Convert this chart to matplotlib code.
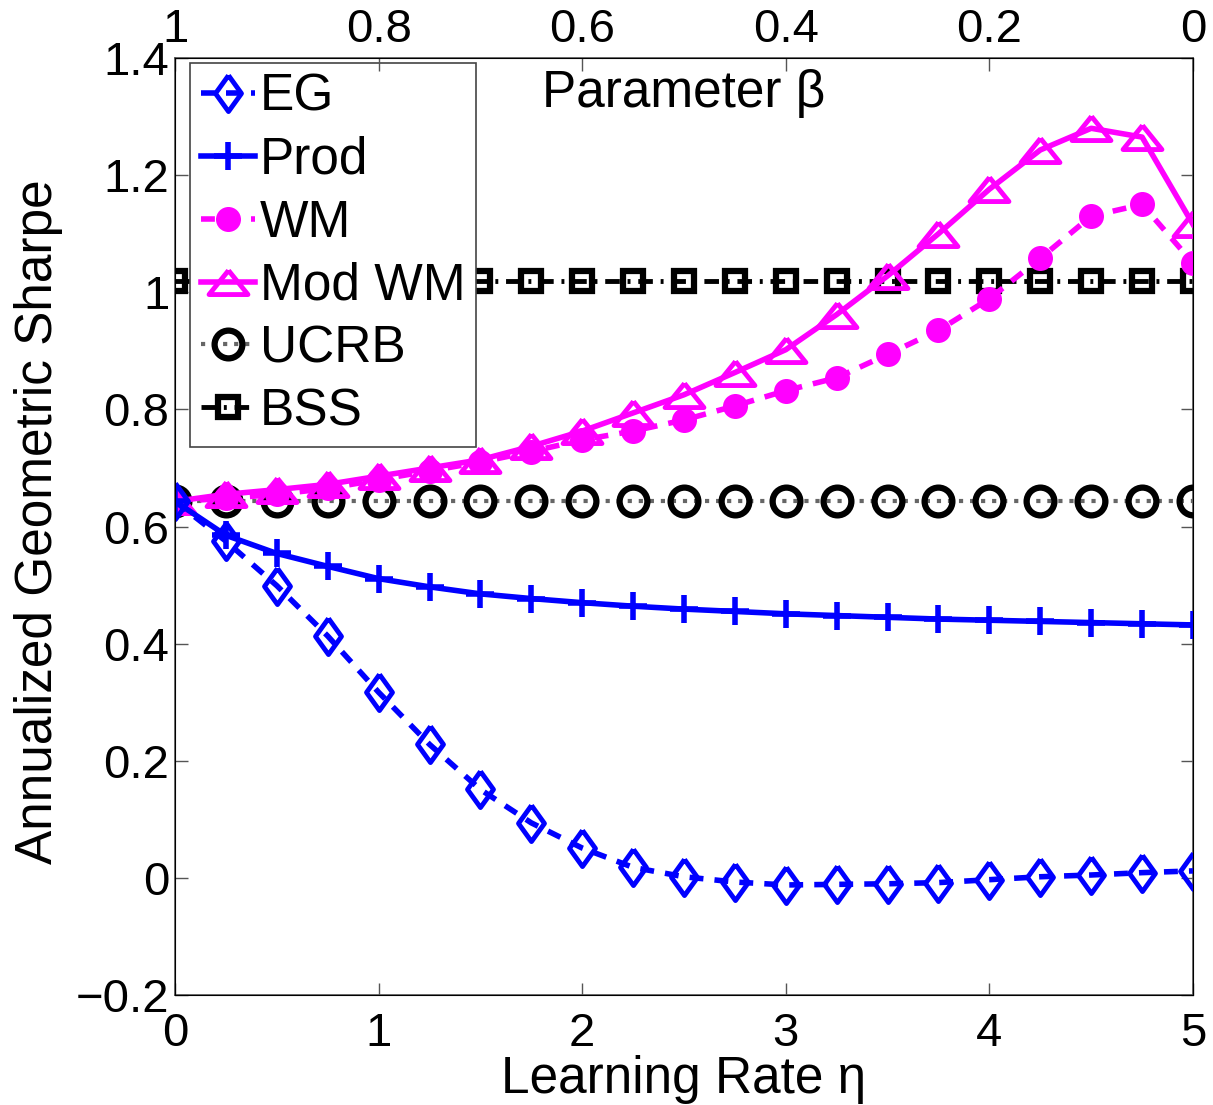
import matplotlib.pyplot as plt
import numpy as np

plt.rcParams['font.family'] = ['Liberation Sans', 'DejaVu Sans']

# learning rate eta (bottom axis), parameter beta (top axis)
eta = [0, 0.25, 0.5, 0.75, 1.0, 1.25, 1.5, 1.75, 2.0, 2.25, 2.5,
       2.75, 3.0, 3.25, 3.5, 3.75, 4.0, 4.25, 4.5, 4.75, 5.0]

eg = [0.643, 0.575, 0.499, 0.413, 0.317, 0.228, 0.151, 0.094, 0.051, 0.018, 0.002,
      -0.007, -0.012, -0.011, -0.010, -0.008, -0.003, 0.002, 0.005, 0.009, 0.012]
prod = [0.643, 0.585, 0.554, 0.532, 0.511, 0.497, 0.485, 0.477, 0.470, 0.464, 0.459,
        0.455, 0.451, 0.448, 0.445, 0.442, 0.440, 0.438, 0.436, 0.434, 0.432]
wm = [0.643, 0.648, 0.655, 0.665, 0.680, 0.695, 0.710, 0.728, 0.748, 0.763, 0.782,
      0.806, 0.832, 0.854, 0.894, 0.935, 0.989, 1.058, 1.130, 1.150, 1.050]
mod_wm = [0.643, 0.655, 0.663, 0.672, 0.686, 0.700, 0.714, 0.737, 0.763, 0.794, 0.825,
          0.863, 0.902, 0.962, 1.028, 1.100, 1.176, 1.243, 1.280, 1.265, 1.116]
ucrb = [0.643] * 21
bss = [1.019] * 21

beta_ticks = [1, 0.8, 0.6, 0.4, 0.2, 0]
beta_labels = ['1', '0.8', '0.6', '0.4', '0.2', '0']
y_ticks = [-0.2, 0, 0.2, 0.4, 0.6, 0.8, 1.0, 1.2, 1.4]
y_labels = ['\u22120.2', '0', '0.2', '0.4', '0.6', '0.8', '1', '1.2', '1.4']

blue = '#0000FF'
magenta = '#FF00FF'

# flattened triangle and tall diamond like matlab markers
tri = [(0, 0.62), (-1, -0.62), (1, -0.62), (0, 0.62)]
dia = [(0, 1), (0.72, 0), (0, -1), (-0.72, 0), (0, 1)]

fig = plt.figure(figsize=(12.13, 11.05), dpi=100)
ax = fig.add_axes([0.1443, 0.0995, 0.8392, 0.8480])

ax.plot(eta, eg, color=blue, linestyle='--', dashes=(2.5, 2), linewidth=4,
        marker=dia, markersize=26, markerfacecolor='none', markeredgewidth=3.5,
        label='EG', zorder=5)
ax.plot(eta, prod, color=blue, linestyle='-', linewidth=4,
        marker='+', markersize=20, markeredgewidth=4, label='Prod', zorder=5)
ax.plot(eta, wm, color=magenta, linestyle='--', dashes=(2.5, 2), linewidth=4,
        marker='o', markersize=16, markerfacecolor=magenta, markeredgewidth=2,
        label='WM', zorder=4)
ax.plot(eta, mod_wm, color=magenta, linestyle='-', linewidth=4,
        marker=tri, markersize=28, markerfacecolor='none', markeredgewidth=3.5,
        label='Mod WM', zorder=4)
ax.plot(eta, ucrb, color='#666666', linestyle=':', linewidth=3,
        marker='o', markersize=20, markerfacecolor='none', markeredgecolor='black',
        markeredgewidth=4.5, label='UCRB', zorder=3)
ax.plot(eta, bss, color='black', linestyle='-.', dashes=(3, 1.6, 0.6, 1.6), linewidth=3.5,
        marker='s', markersize=14, markerfacecolor='none', markeredgecolor='black',
        markeredgewidth=4.5, label='BSS', zorder=3)

ax.set_xlim(0, 5)
ax.set_ylim(-0.2, 1.4)
ax.set_xticks(range(6))
ax.set_xticklabels([str(i) for i in range(6)])
ax.set_yticks(y_ticks)
ax.set_yticklabels(y_labels)
ax.tick_params(axis='both', direction='in', length=9, width=1, labelsize=34,
               colors='#555555', labelcolor='black')
ax.tick_params(axis='x', pad=12)
ax.tick_params(axis='y', pad=4, right=True)
for s in ax.spines.values():
    s.set_color('#555555')
    s.set_linewidth(1.2)

ax.set_xlabel('Learning Rate \u03b7', fontsize=37)
ax.xaxis.set_label_coords(0.5, -0.064)
ax.set_ylabel('Annualized Geometric Sharpe', fontsize=37)
ax.yaxis.set_label_coords(-0.11, 0.505)

ax2 = ax.twiny()
ax2.set_xlim(1, 0)
ax2.set_xticks(beta_ticks)
ax2.set_xticklabels(beta_labels)
ax2.tick_params(axis='x', direction='in', length=9, width=1, labelsize=34,
                pad=4, colors='#555555', labelcolor='black')
ax2.set_xlabel('Parameter \u03b2', fontsize=37)
ax2.xaxis.set_label_coords(0.5, 0.948)

leg = ax.legend(loc='upper left', bbox_to_anchor=(0.015, 0.995), borderaxespad=0,
                fontsize=37, numpoints=1, handlelength=1.05, handletextpad=0.1,
                labelspacing=0.27, borderpad=0.2, fancybox=False, framealpha=1)
leg.get_frame().set_edgecolor('#444444')
leg.get_frame().set_linewidth(1.2)
leg.set_zorder(10)

fig.savefig('out.png', dpi=100)
